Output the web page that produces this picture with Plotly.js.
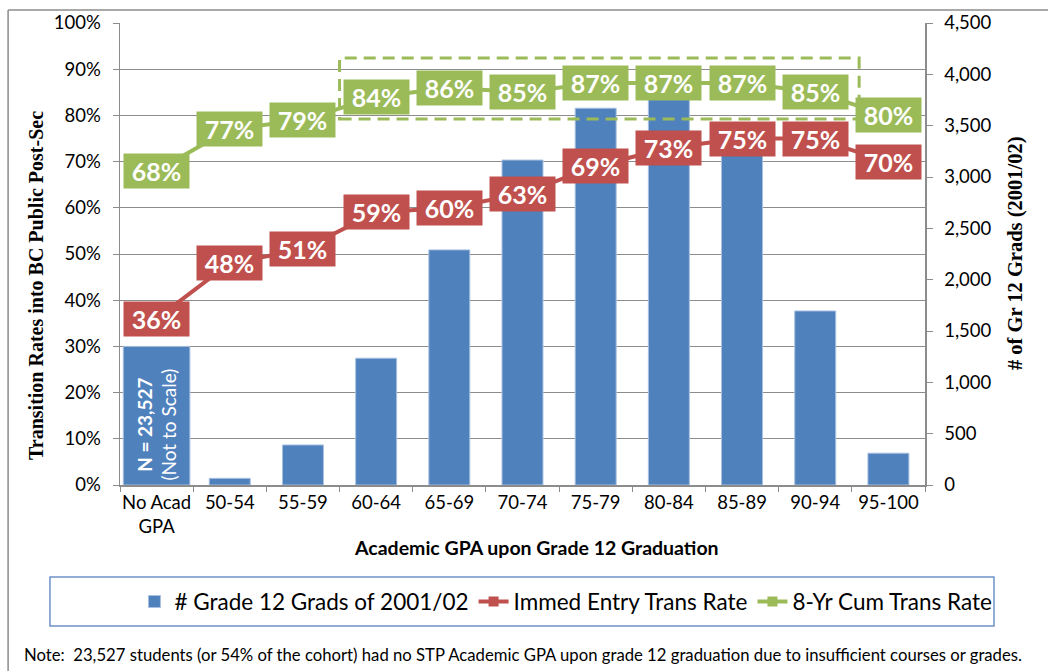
<!DOCTYPE html>
<html>
<head>
<meta charset="utf-8">
<script src="https://cdn.plot.ly/plotly-3.0.1.min.js"></script>
<style>html,body{margin:0;padding:0;background:#fff;}#chart{width:1048px;height:671px;}</style>
</head>
<body>
<div id="chart"></div>
<script>
// Categories (Academic GPA bands)
var categories = ['No Acad<br>GPA', '50-54', '55-59', '60-64', '65-69', '70-74', '75-79', '80-84', '85-89', '90-94', '95-100'];
// # of Grade 12 grads (first bar shown not to scale; actual N = 23,527)
var gradCounts = [1350, 65, 390, 1235, 2290, 3165, 3670, 3850, 3450, 1695, 310];
// Immediate entry transition rate (%)
var immedRate = [36, 48, 51, 59, 60, 63, 69, 73, 75, 75, 70];
// 8-year cumulative transition rate (%)
var cumRate = [68, 77, 79, 84, 86, 85, 87, 87, 87, 85, 80];

var BLUE = '#4F81BD', RED = '#C0504D', GREEN = '#9BBB59', GRID = '#8c8c8c';
var SANS = 'Lato, "DejaVu Sans", sans-serif';
var SERIF = '"Liberation Serif", "DejaVu Serif", serif';

var barWidths = categories.map(function (c, i) { return i === 0 ? 0.91 : 0.56; });

var traces = [
  {
    type: 'bar', name: '# Grade 12 Grads of 2001/02', x: categories, y: gradCounts,
    width: barWidths, yaxis: 'y', xaxis: 'x',
    marker: { color: BLUE, line: { color: '#a9c0e0', width: 1 } }
  },
  {
    type: 'scatter', mode: 'lines+markers', name: 'Immed Entry Trans Rate',
    x: categories, y: immedRate, yaxis: 'y2',
    line: { color: RED, width: 4 }, marker: { color: RED, symbol: 'square', size: 10 }
  },
  {
    type: 'scatter', mode: 'lines+markers', name: '8-Yr Cum Trans Rate',
    x: categories, y: cumRate, yaxis: 'y2',
    line: { color: GREEN, width: 4 }, marker: { color: GREEN, symbol: 'square', size: 10 }
  }
];

function labelAnn(cat, val, color) {
  return {
    x: cat, y: val, xref: 'x', yref: 'y2', text: '<b>' + val + '%</b>', showarrow: false,
    font: { family: SANS, size: 25, color: '#ffffff' },
    bgcolor: color, width: 61, height: 30, borderpad: 2, align: 'center', valign: 'middle'
  };
}

var annotations = [];
categories.forEach(function (c, i) {
  annotations.push(labelAnn(c, immedRate[i], RED));
  annotations.push(labelAnn(c, cumRate[i], GREEN));
});

annotations.push({
  x: categories[0], y: 13, xref: 'x', yref: 'y2', textangle: -90, showarrow: false,
  text: '<b>N = 23,527</b><br>(Not to Scale)', align: 'center',
  font: { family: SANS, size: 19, color: '#ffffff' }
});

annotations.push({
  xref: 'paper', yref: 'paper', x: -0.1043, y: 0.4307, textangle: -90, showarrow: false,
  text: '<b>Transition Rates into BC Public Post-Sec</b>', xanchor: 'center', yanchor: 'middle',
  font: { family: SERIF, size: 20, color: '#000' }
});
annotations.push({
  xref: 'paper', yref: 'paper', x: 1.1118, y: 0.502, textangle: -90, showarrow: false,
  text: '<b># of Gr 12 Grads (2001/02)</b>', xanchor: 'center', yanchor: 'middle',
  font: { family: SERIF, size: 20.5, color: '#000' }
});
annotations.push({
  xref: 'paper', yref: 'paper', x: 0.518, y: -0.136, showarrow: false,
  text: '<b>Academic GPA upon Grade 12 Graduation</b>', xanchor: 'center', yanchor: 'middle',
  font: { family: SANS, size: 19.5, color: '#000' }
});
annotations.push({
  xref: 'paper', yref: 'paper', x: 0.5, y: -0.368, showarrow: false,
  text: 'Note:  23,527 students (or 54% of the cohort) had no STP Academic GPA upon grade 12 graduation due to insufficient courses or grades.',
  xanchor: 'center', yanchor: 'middle',
  font: { family: SANS, size: 16.7, color: '#000' }
});

var shapes = [
  // highlight box around 60-94 cumulative rates
  { type: 'rect', xref: 'x', yref: 'y2', x0: 2.5, x1: 9.6, y0: 79.2, y1: 92.4,
    line: { color: GREEN, width: 3, dash: '12px,7px' }, fillcolor: 'rgba(0,0,0,0)', layer: 'above' },
  // legend frame
  { type: 'rect', xref: 'paper', yref: 'paper', x0: -0.087, x1: 1.0857, y0: -0.305, y1: -0.199,
    line: { color: '#6d93c9', width: 1.5 }, fillcolor: 'rgba(0,0,0,0)' },
  // outer chart frame (left and top edges)
  { type: 'line', xref: 'paper', yref: 'paper', x0: -0.139, x1: -0.139, y0: 1.028, y1: -0.42,
    line: { color: '#8c8c8c', width: 1.5 } },
  { type: 'line', xref: 'paper', yref: 'paper', x0: -0.139, x1: 1.16, y0: 1.028, y1: 1.028,
    line: { color: '#8c8c8c', width: 1.5 } }
];

var layout = {
  width: 1048, height: 671,
  margin: { l: 120, r: 123, t: 23, b: 186 },
  paper_bgcolor: '#ffffff', plot_bgcolor: '#ffffff',
  showlegend: true,
  legend: {
    orientation: 'h', x: 1.09, xanchor: 'right', y: -0.253, yanchor: 'middle',
    font: { family: SANS, size: 22.5, color: '#000' }, bgcolor: 'rgba(0,0,0,0)',
    itemwidth: 30, tracegroupgap: 0
  },
  bargap: 0.44,
  xaxis: {
    type: 'category', range: [-0.5, 10.5], autorange: false, showgrid: false, showline: true,
    linecolor: GRID, linewidth: 1.5, tickangle: 0,
    ticks: 'outside', tickson: 'boundaries', ticklen: 5, tickcolor: GRID,
    tickfont: { family: SANS, size: 18.5, color: '#000' }, fixedrange: true
  },
  yaxis: {
    side: 'right', range: [0, 4500], dtick: 500, tickformat: ',d', showgrid: false,
    showline: true, linecolor: GRID, linewidth: 1.5, ticks: 'outside', ticklen: 6, tickcolor: GRID,
    tickfont: { family: SANS, size: 18.5, color: '#000' }, zeroline: false, ticklabelstandoff: 8
  },
  yaxis2: {
    overlaying: 'y', side: 'left', range: [0, 100], dtick: 10, ticksuffix: '%',
    showgrid: true, gridcolor: GRID, gridwidth: 1, showline: true, linecolor: GRID, linewidth: 1.5,
    ticks: 'outside', ticklen: 6, tickcolor: GRID, zeroline: false,
    tickfont: { family: SANS, size: 18.5, color: '#000' }, ticklabelstandoff: 8
  },
  annotations: annotations,
  shapes: shapes
};

Plotly.newPlot('chart', traces, layout, { displayModeBar: false, staticPlot: true });
</script>
</body>
</html>
